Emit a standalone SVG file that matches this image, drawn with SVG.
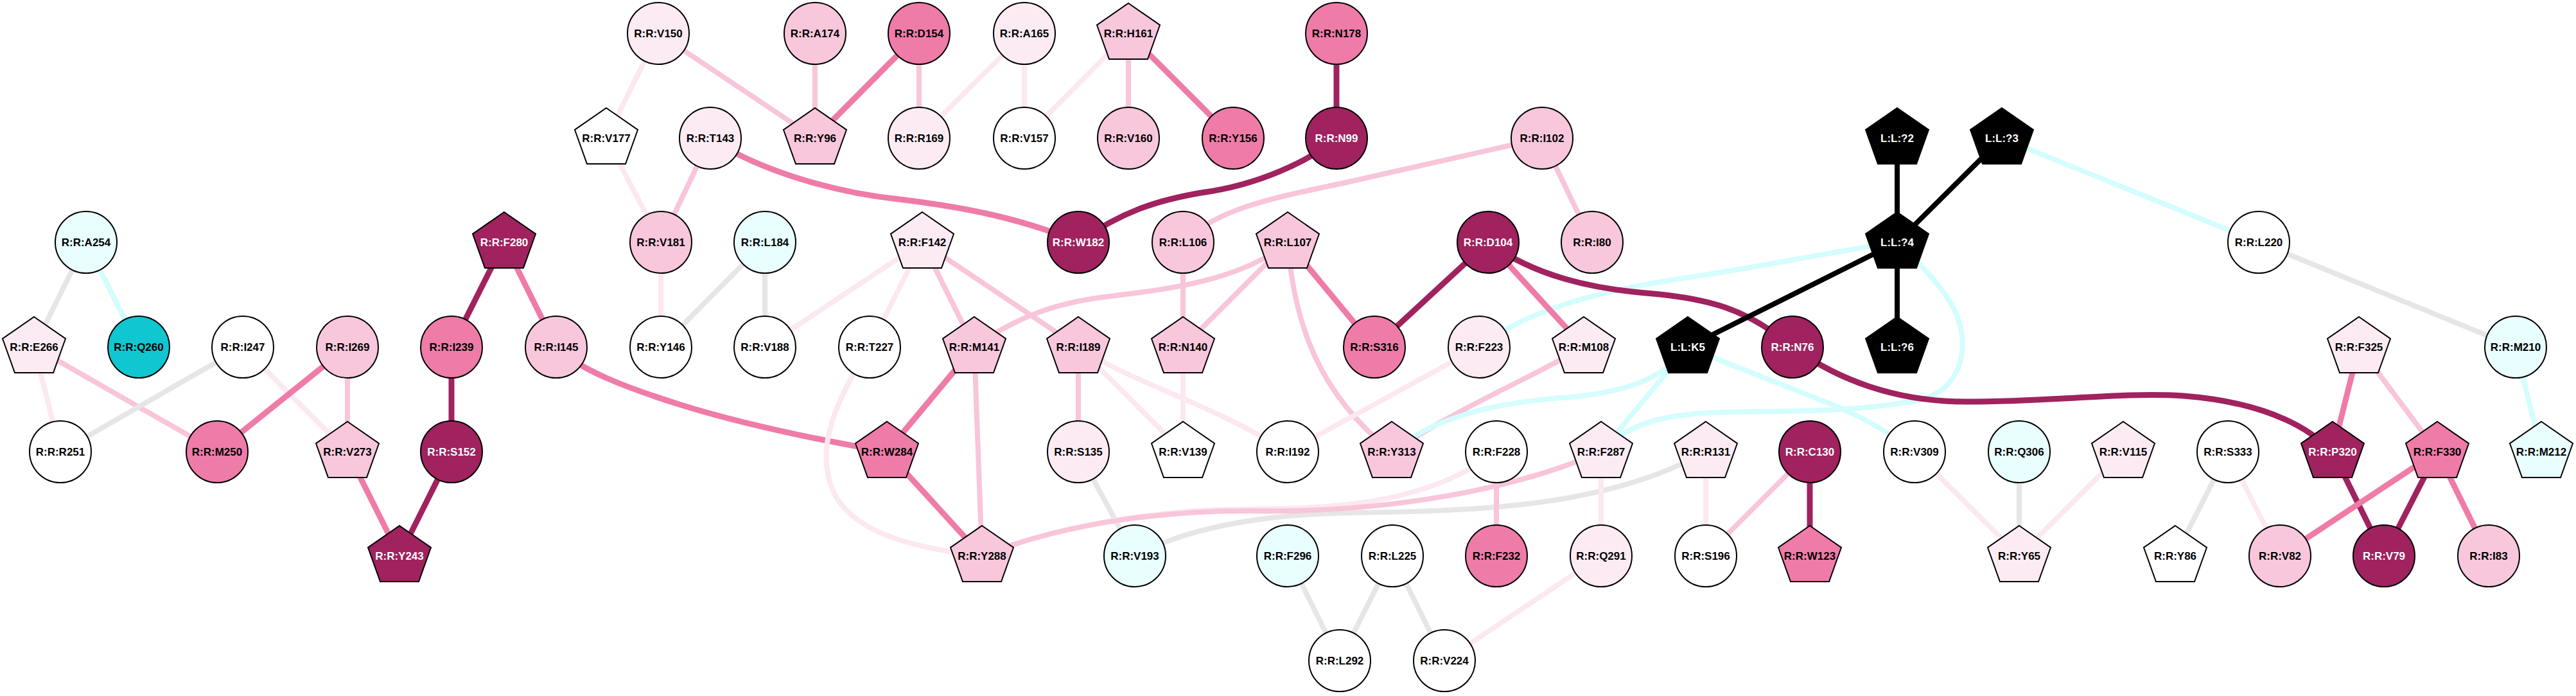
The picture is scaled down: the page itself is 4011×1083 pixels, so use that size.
<svg xmlns="http://www.w3.org/2000/svg" xmlns:xlink="http://www.w3.org/1999/xlink" width="4011" height="1083" viewBox="0 0 4011 1083">
<style>
.e{fill:none;stroke-width:8;stroke-linecap:butt}
.g{stroke:#e6e6e6}.c{stroke:#d4fdfd}.v{stroke:#fce8f1}.l{stroke:#f8c5da}.m{stroke:#ef7ba8;stroke-width:9}.d{stroke:#a0225e;stroke-width:9}.k{stroke:#000000}
.n{stroke:#000;stroke-width:2}
.W{fill:#ffffff}.VLP{fill:#fcebf3}.LP{fill:#f8c7dc}.MP{fill:#ef7ba8}.DK{fill:#a0225e}.LC{fill:#e9fefe}.C{fill:#10c6d0}.BLK{fill:#000000}
text{font-family:"Liberation Sans",Arial,sans-serif;font-weight:bold;font-size:17px;text-anchor:middle;fill:#000}
text.w{fill:#ffffff}
</style>
<defs>
<polygon id="p" points="0,-47 49,-13 30,40 -30,40 -49,-13"/>
</defs>
<rect width="4011" height="1083" fill="#ffffff"/>
<g id="connectors">
<line class="e v" x1="1025" y1="52" x2="944" y2="215"/>
<line class="e l" x1="1025" y1="52" x2="1269" y2="215"/>
<line class="e l" x1="1269" y1="52" x2="1269" y2="215"/>
<line class="e m" x1="1431" y1="52" x2="1269" y2="215"/>
<line class="e l" x1="1431" y1="52" x2="1431" y2="215"/>
<line class="e v" x1="1595" y1="52" x2="1431" y2="215"/>
<line class="e v" x1="1595" y1="52" x2="1595" y2="215"/>
<line class="e v" x1="1757" y1="52" x2="1595" y2="215"/>
<line class="e l" x1="1757" y1="52" x2="1757" y2="215"/>
<line class="e m" x1="1757" y1="52" x2="1920" y2="215"/>
<line class="e d" x1="2081" y1="52" x2="2081" y2="215"/>
<path class="e d" d="M2081,215 C2040,250 1960,288 1870,300 C1800,312 1745,330 1679,377"/>
<path class="e m" d="M1106,215 C1180,265 1300,300 1400,310 C1480,320 1580,335 1679,377"/>
<line class="e l" x1="1106" y1="215" x2="1029" y2="377"/>
<line class="e v" x1="944" y1="215" x2="1029" y2="377"/>
<path class="e l" d="M2401,215 L2100,283 C2000,305 1900,320 1842,377"/>
<line class="e l" x1="2401" y1="215" x2="2479" y2="377"/>
<line class="e g" x1="1191" y1="377" x2="1029" y2="540"/>
<line class="e g" x1="1191" y1="377" x2="1191" y2="540"/>
<line class="e v" x1="1029" y1="377" x2="1029" y2="540"/>
<line class="e g" x1="134" y1="377" x2="53" y2="540"/>
<line class="e c" x1="134" y1="377" x2="216" y2="540"/>
<line class="e v" x1="53" y1="540" x2="94" y2="703"/>
<line class="e l" x1="53" y1="540" x2="338" y2="703"/>
<line class="e g" x1="378" y1="540" x2="94" y2="703"/>
<line class="e v" x1="378" y1="540" x2="541" y2="703"/>
<line class="e m" x1="541" y1="540" x2="338" y2="703"/>
<line class="e l" x1="541" y1="540" x2="541" y2="703"/>
<line class="e d" x1="785" y1="377" x2="703" y2="540"/>
<line class="e m" x1="785" y1="377" x2="866" y2="540"/>
<line class="e d" x1="703" y1="540" x2="703" y2="703"/>
<line class="e d" x1="703" y1="703" x2="622" y2="865"/>
<line class="e m" x1="541" y1="703" x2="622" y2="865"/>
<path class="e m" d="M866,540 C900,575 980,605 1060,630 C1150,658 1260,682 1381,703"/>
<line class="e v" x1="1436" y1="377" x2="1191" y2="540"/>
<line class="e v" x1="1436" y1="377" x2="1354" y2="540"/>
<line class="e l" x1="1436" y1="377" x2="1517" y2="540"/>
<line class="e l" x1="1436" y1="377" x2="1679" y2="540"/>
<line class="e l" x1="1842" y1="377" x2="1842" y2="540"/>
<line class="e l" x1="2005" y1="377" x2="1842" y2="540"/>
<path class="e l" d="M2005,377 C1930,440 1800,452 1720,462 C1640,472 1580,495 1517,540"/>
<line class="e m" x1="2005" y1="377" x2="2140" y2="540"/>
<path class="e l" d="M2005,377 C2015,500 2050,610 2167,703"/>
<line class="e m" x1="1517" y1="540" x2="1381" y2="703"/>
<line class="e l" x1="1517" y1="540" x2="1529" y2="865"/>
<line class="e m" x1="1381" y1="703" x2="1529" y2="865"/>
<path class="e v" d="M1354,540 C1290,640 1270,710 1300,770 C1335,835 1440,855 1529,865"/>
<line class="e l" x1="1679" y1="540" x2="1679" y2="703"/>
<line class="e v" x1="1679" y1="540" x2="1842" y2="703"/>
<path class="e v" d="M1679,540 C1760,595 1880,625 2005,703"/>
<line class="e v" x1="1842" y1="540" x2="1842" y2="703"/>
<line class="e g" x1="1679" y1="703" x2="1767" y2="865"/>
<path class="e g" d="M1767,865 C1860,815 1990,800 2100,798 C2300,795 2500,790 2656,703"/>
<path class="e v" d="M1529,865 C1680,805 1850,792 1950,792 C2100,792 2230,778 2330,703"/>
<path class="e l" d="M1529,865 C1680,805 1850,794 1950,795 C2150,798 2350,765 2493,703"/>
<line class="e l" x1="2330" y1="703" x2="2330" y2="865"/>
<line class="e v" x1="2493" y1="703" x2="2493" y2="865"/>
<line class="e v" x1="2656" y1="703" x2="2656" y2="865"/>
<line class="e l" x1="2818" y1="703" x2="2656" y2="865"/>
<line class="e d" x1="2818" y1="703" x2="2818" y2="865"/>
<line class="e v" x1="2493" y1="865" x2="2249" y2="1028"/>
<line class="e g" x1="2005" y1="865" x2="2086" y2="1028"/>
<line class="e g" x1="2168" y1="865" x2="2086" y2="1028"/>
<line class="e g" x1="2168" y1="865" x2="2249" y2="1028"/>
<line class="e v" x1="2303" y1="540" x2="2005" y2="703"/>
<path class="e c" d="M2303,540 C2380,480 2500,450 2640,430 C2760,412 2860,390 2954,377"/>
<line class="e d" x1="2317" y1="377" x2="2140" y2="540"/>
<line class="e m" x1="2317" y1="377" x2="2466" y2="540"/>
<path class="e d" d="M2317,377 C2390,430 2480,450 2574,457 C2660,465 2720,480 2791,540"/>
<path class="e l" d="M2466,540 C2380,590 2280,630 2167,703"/>
<path class="e c" d="M2167,703 C2230,650 2330,625 2446,618 C2530,610 2590,590 2628,540"/>
<line class="e c" x1="2628" y1="540" x2="2493" y2="703"/>
<path class="e c" d="M2628,540 C2700,570 2780,600 2861,633 C2900,650 2930,665 2981,703"/>
<path class="e c" d="M2493,703 C2540,650 2620,642 2700,641 C2800,640 2900,640 2990,622 C3060,605 3068,530 3042,480 C3025,448 3000,420 2954,377"/>
<line class="e k" x1="2628" y1="540" x2="2954" y2="377"/>
<line class="e k" x1="2954" y1="215" x2="2954" y2="377"/>
<line class="e k" x1="3117" y1="215" x2="2954" y2="377"/>
<line class="e k" x1="2954" y1="377" x2="2954" y2="540"/>
<line class="e c" x1="3117" y1="215" x2="3517" y2="377"/>
<line class="e g" x1="3517" y1="377" x2="3917" y2="540"/>
<line class="e c" x1="3917" y1="540" x2="3957" y2="703"/>
<path class="e d" d="M2791,540 C2860,590 2950,625 3060,625 C3200,625 3300,610 3400,616 C3500,624 3580,650 3632,703"/>
<line class="e m" x1="3673" y1="540" x2="3632" y2="703"/>
<line class="e l" x1="3673" y1="540" x2="3795" y2="703"/>
<line class="e d" x1="3632" y1="703" x2="3712" y2="865"/>
<line class="e m" x1="3795" y1="703" x2="3550" y2="865"/>
<line class="e d" x1="3795" y1="703" x2="3712" y2="865"/>
<line class="e m" x1="3795" y1="703" x2="3875" y2="865"/>
<line class="e g" x1="3469" y1="703" x2="3387" y2="865"/>
<line class="e v" x1="3469" y1="703" x2="3550" y2="865"/>
<line class="e v" x1="2981" y1="703" x2="3144" y2="865"/>
<line class="e g" x1="3144" y1="703" x2="3144" y2="865"/>
<line class="e v" x1="3306" y1="703" x2="3144" y2="865"/>
</g>
<g id="nodes">
<g id="n-V150"><circle class="n VLP" cx="1025" cy="52" r="48"/><text x="1025" y="58">R:R:V150</text></g>
<g id="n-A174"><circle class="n LP" cx="1269" cy="52" r="48"/><text x="1269" y="58">R:R:A174</text></g>
<g id="n-D154"><circle class="n MP" cx="1431" cy="52" r="48"/><text x="1431" y="58">R:R:D154</text></g>
<g id="n-A165"><circle class="n VLP" cx="1595" cy="52" r="48"/><text x="1595" y="58">R:R:A165</text></g>
<g id="n-H161"><use href="#p" class="n LP" x="1757" y="52"/><text x="1757" y="58">R:R:H161</text></g>
<g id="n-N178"><circle class="n MP" cx="2081" cy="52" r="48"/><text x="2081" y="58">R:R:N178</text></g>
<g id="n-V177"><use href="#p" class="n W" x="944" y="215"/><text x="944" y="221">R:R:V177</text></g>
<g id="n-T143"><circle class="n VLP" cx="1106" cy="215" r="48"/><text x="1106" y="221">R:R:T143</text></g>
<g id="n-Y96"><use href="#p" class="n LP" x="1269" y="215"/><text x="1269" y="221">R:R:Y96</text></g>
<g id="n-R169"><circle class="n VLP" cx="1431" cy="215" r="48"/><text x="1431" y="221">R:R:R169</text></g>
<g id="n-V157"><circle class="n W" cx="1595" cy="215" r="48"/><text x="1595" y="221">R:R:V157</text></g>
<g id="n-V160"><circle class="n LP" cx="1757" cy="215" r="48"/><text x="1757" y="221">R:R:V160</text></g>
<g id="n-Y156"><circle class="n MP" cx="1920" cy="215" r="48"/><text x="1920" y="221">R:R:Y156</text></g>
<g id="n-N99"><circle class="n DK" cx="2081" cy="215" r="48"/><text class="w" x="2081" y="221">R:R:N99</text></g>
<g id="n-I102"><circle class="n LP" cx="2401" cy="215" r="48"/><text x="2401" y="221">R:R:I102</text></g>
<g id="n-L2"><use href="#p" class="n BLK" x="2954" y="215"/><text class="w" x="2954" y="221">L:L:?2</text></g>
<g id="n-L3"><use href="#p" class="n BLK" x="3117" y="215"/><text class="w" x="3117" y="221">L:L:?3</text></g>
<g id="n-A254"><circle class="n LC" cx="134" cy="377" r="48"/><text x="134" y="383">R:R:A254</text></g>
<g id="n-F280"><use href="#p" class="n DK" x="785" y="377"/><text class="w" x="785" y="383">R:R:F280</text></g>
<g id="n-V181"><circle class="n LP" cx="1029" cy="377" r="48"/><text x="1029" y="383">R:R:V181</text></g>
<g id="n-L184"><circle class="n LC" cx="1191" cy="377" r="48"/><text x="1191" y="383">R:R:L184</text></g>
<g id="n-F142"><use href="#p" class="n VLP" x="1436" y="377"/><text x="1436" y="383">R:R:F142</text></g>
<g id="n-W182"><circle class="n DK" cx="1679" cy="377" r="48"/><text class="w" x="1679" y="383">R:R:W182</text></g>
<g id="n-L106"><circle class="n LP" cx="1842" cy="377" r="48"/><text x="1842" y="383">R:R:L106</text></g>
<g id="n-L107"><use href="#p" class="n LP" x="2005" y="377"/><text x="2005" y="383">R:R:L107</text></g>
<g id="n-D104"><circle class="n DK" cx="2317" cy="377" r="48"/><text class="w" x="2317" y="383">R:R:D104</text></g>
<g id="n-I80"><circle class="n LP" cx="2479" cy="377" r="48"/><text x="2479" y="383">R:R:I80</text></g>
<g id="n-L4"><use href="#p" class="n BLK" x="2954" y="377"/><text class="w" x="2954" y="383">L:L:?4</text></g>
<g id="n-L220"><circle class="n W" cx="3517" cy="377" r="48"/><text x="3517" y="383">R:R:L220</text></g>
<g id="n-E266"><use href="#p" class="n VLP" x="53" y="540"/><text x="53" y="546">R:R:E266</text></g>
<g id="n-Q260"><circle class="n C" cx="216" cy="540" r="48"/><text x="216" y="546">R:R:Q260</text></g>
<g id="n-I247"><circle class="n W" cx="378" cy="540" r="48"/><text x="378" y="546">R:R:I247</text></g>
<g id="n-I269"><circle class="n LP" cx="541" cy="540" r="48"/><text x="541" y="546">R:R:I269</text></g>
<g id="n-I239"><circle class="n MP" cx="703" cy="540" r="48"/><text x="703" y="546">R:R:I239</text></g>
<g id="n-I145"><circle class="n LP" cx="866" cy="540" r="48"/><text x="866" y="546">R:R:I145</text></g>
<g id="n-Y146"><circle class="n W" cx="1029" cy="540" r="48"/><text x="1029" y="546">R:R:Y146</text></g>
<g id="n-V188"><circle class="n W" cx="1191" cy="540" r="48"/><text x="1191" y="546">R:R:V188</text></g>
<g id="n-T227"><circle class="n W" cx="1354" cy="540" r="48"/><text x="1354" y="546">R:R:T227</text></g>
<g id="n-M141"><use href="#p" class="n LP" x="1517" y="540"/><text x="1517" y="546">R:R:M141</text></g>
<g id="n-I189"><use href="#p" class="n LP" x="1679" y="540"/><text x="1679" y="546">R:R:I189</text></g>
<g id="n-N140"><use href="#p" class="n LP" x="1842" y="540"/><text x="1842" y="546">R:R:N140</text></g>
<g id="n-S316"><circle class="n MP" cx="2140" cy="540" r="48"/><text x="2140" y="546">R:R:S316</text></g>
<g id="n-F223"><circle class="n VLP" cx="2303" cy="540" r="48"/><text x="2303" y="546">R:R:F223</text></g>
<g id="n-M108"><use href="#p" class="n VLP" x="2466" y="540"/><text x="2466" y="546">R:R:M108</text></g>
<g id="n-K5"><use href="#p" class="n BLK" x="2628" y="540"/><text class="w" x="2628" y="546">L:L:K5</text></g>
<g id="n-N76"><circle class="n DK" cx="2791" cy="540" r="48"/><text class="w" x="2791" y="546">R:R:N76</text></g>
<g id="n-L6"><use href="#p" class="n BLK" x="2954" y="540"/><text class="w" x="2954" y="546">L:L:?6</text></g>
<g id="n-F325"><use href="#p" class="n VLP" x="3673" y="540"/><text x="3673" y="546">R:R:F325</text></g>
<g id="n-M210"><circle class="n LC" cx="3917" cy="540" r="48"/><text x="3917" y="546">R:R:M210</text></g>
<g id="n-R251"><circle class="n W" cx="94" cy="703" r="48"/><text x="94" y="709">R:R:R251</text></g>
<g id="n-M250"><circle class="n MP" cx="338" cy="703" r="48"/><text x="338" y="709">R:R:M250</text></g>
<g id="n-V273"><use href="#p" class="n LP" x="541" y="703"/><text x="541" y="709">R:R:V273</text></g>
<g id="n-S152"><circle class="n DK" cx="703" cy="703" r="48"/><text class="w" x="703" y="709">R:R:S152</text></g>
<g id="n-W284"><use href="#p" class="n MP" x="1381" y="703"/><text x="1381" y="709">R:R:W284</text></g>
<g id="n-S135"><circle class="n VLP" cx="1679" cy="703" r="48"/><text x="1679" y="709">R:R:S135</text></g>
<g id="n-V139"><use href="#p" class="n W" x="1842" y="703"/><text x="1842" y="709">R:R:V139</text></g>
<g id="n-I192"><circle class="n W" cx="2005" cy="703" r="48"/><text x="2005" y="709">R:R:I192</text></g>
<g id="n-Y313"><use href="#p" class="n LP" x="2167" y="703"/><text x="2167" y="709">R:R:Y313</text></g>
<g id="n-F228"><circle class="n W" cx="2330" cy="703" r="48"/><text x="2330" y="709">R:R:F228</text></g>
<g id="n-F287"><use href="#p" class="n VLP" x="2493" y="703"/><text x="2493" y="709">R:R:F287</text></g>
<g id="n-R131"><use href="#p" class="n VLP" x="2656" y="703"/><text x="2656" y="709">R:R:R131</text></g>
<g id="n-C130"><circle class="n DK" cx="2818" cy="703" r="48"/><text class="w" x="2818" y="709">R:R:C130</text></g>
<g id="n-V309"><circle class="n W" cx="2981" cy="703" r="48"/><text x="2981" y="709">R:R:V309</text></g>
<g id="n-Q306"><circle class="n LC" cx="3144" cy="703" r="48"/><text x="3144" y="709">R:R:Q306</text></g>
<g id="n-V115"><use href="#p" class="n VLP" x="3306" y="703"/><text x="3306" y="709">R:R:V115</text></g>
<g id="n-S333"><circle class="n W" cx="3469" cy="703" r="48"/><text x="3469" y="709">R:R:S333</text></g>
<g id="n-P320"><use href="#p" class="n DK" x="3632" y="703"/><text class="w" x="3632" y="709">R:R:P320</text></g>
<g id="n-F330"><use href="#p" class="n MP" x="3795" y="703"/><text x="3795" y="709">R:R:F330</text></g>
<g id="n-M212"><use href="#p" class="n LC" x="3957" y="703"/><text x="3957" y="709">R:R:M212</text></g>
<g id="n-Y243"><use href="#p" class="n DK" x="622" y="865"/><text class="w" x="622" y="871">R:R:Y243</text></g>
<g id="n-Y288"><use href="#p" class="n LP" x="1529" y="865"/><text x="1529" y="871">R:R:Y288</text></g>
<g id="n-V193"><circle class="n LC" cx="1767" cy="865" r="48"/><text x="1767" y="871">R:R:V193</text></g>
<g id="n-F296"><circle class="n LC" cx="2005" cy="865" r="48"/><text x="2005" y="871">R:R:F296</text></g>
<g id="n-L225"><circle class="n W" cx="2168" cy="865" r="48"/><text x="2168" y="871">R:R:L225</text></g>
<g id="n-F232"><circle class="n MP" cx="2330" cy="865" r="48"/><text x="2330" y="871">R:R:F232</text></g>
<g id="n-Q291"><circle class="n VLP" cx="2493" cy="865" r="48"/><text x="2493" y="871">R:R:Q291</text></g>
<g id="n-S196"><circle class="n W" cx="2656" cy="865" r="48"/><text x="2656" y="871">R:R:S196</text></g>
<g id="n-W123"><use href="#p" class="n MP" x="2818" y="865"/><text x="2818" y="871">R:R:W123</text></g>
<g id="n-Y65"><use href="#p" class="n VLP" x="3144" y="865"/><text x="3144" y="871">R:R:Y65</text></g>
<g id="n-Y86"><use href="#p" class="n W" x="3387" y="865"/><text x="3387" y="871">R:R:Y86</text></g>
<g id="n-V82"><circle class="n LP" cx="3550" cy="865" r="48"/><text x="3550" y="871">R:R:V82</text></g>
<g id="n-V79"><circle class="n DK" cx="3712" cy="865" r="48"/><text class="w" x="3712" y="871">R:R:V79</text></g>
<g id="n-I83"><circle class="n LP" cx="3875" cy="865" r="48"/><text x="3875" y="871">R:R:I83</text></g>
<g id="n-L292"><circle class="n W" cx="2086" cy="1028" r="48"/><text x="2086" y="1034">R:R:L292</text></g>
<g id="n-V224"><circle class="n W" cx="2249" cy="1028" r="48"/><text x="2249" y="1034">R:R:V224</text></g>
</g>
</svg>
